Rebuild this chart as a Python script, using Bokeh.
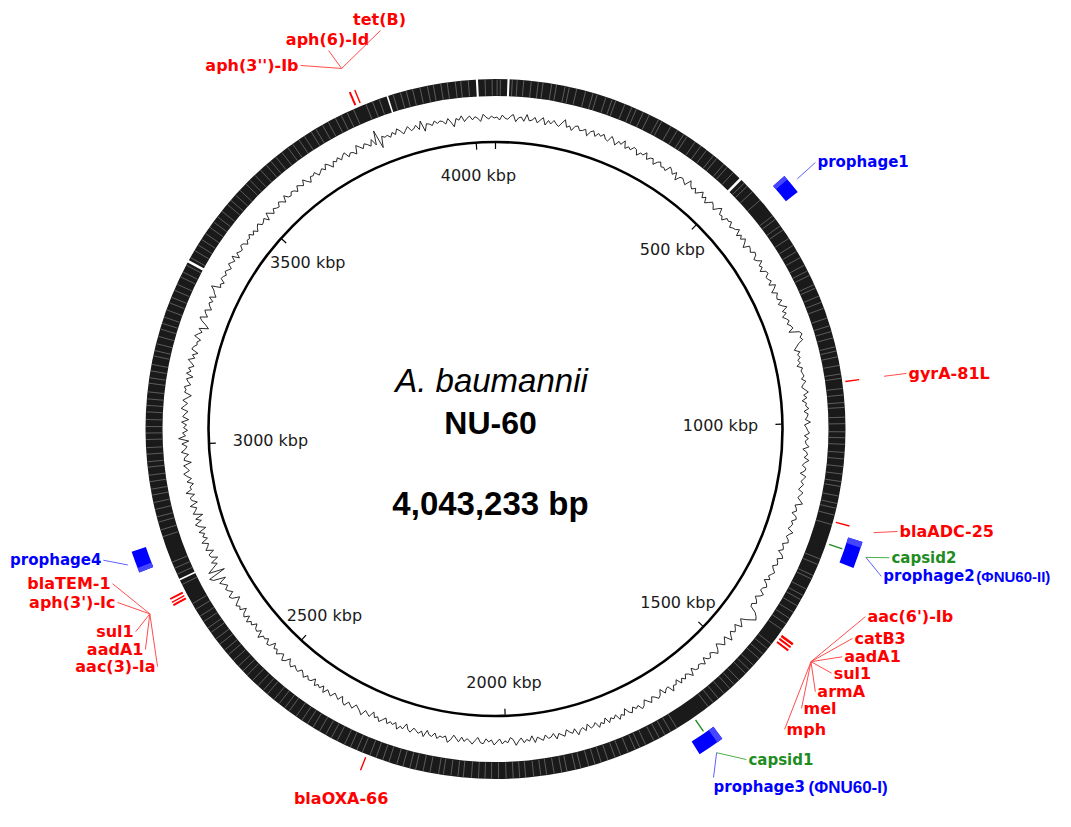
import math
from bokeh.plotting import figure
from bokeh.models import Range1d
from bokeh.core.properties import value
from bokeh.embed import file_html
from bokeh.resources import INLINE

# ---------------- data ----------------
genome_bp = 4043233
genome_kbp = genome_bp / 1000.0
title_species = "A. baumannii"
title_strain = "NU-60"
title_length = "4,043,233 bp"

tick_kbp = [0, 500, 1000, 1500, 2000, 2500, 3000, 3500, 4000]
tick_labels = ["", "500 kbp", "1000 kbp", "1500 kbp", "2000 kbp",
               "2500 kbp", "3000 kbp", "3500 kbp", "4000 kbp"]

# GC plot deviation (one value per 1/720 of the genome)
gc_dev = [
    1, -2, 3, 0, -1, 2, 4, -3, 1, 2, -2, 5, -1, 0, 3, -2, 1, 4, -3, 2,
    -1, 3, 0, -2, 2, 6, -1, 1, -3, 2, 3, -1, 0, 2, -4, 1, 3, -2, 2, 0,
    3, -1, -2, 4, 1, -3, 2, 0, 5, -2, 1, -1, 3, 2, -3, 1, 0, 4, -2, 1,
    2, -3, 1, 3, -1, 0, -2, 4, 2, -1, 3, -4, 1, 2, 0, -2, 5, 1, -1, 2,
    -2, 1, 4, -1, 2, -3, 0, 3, 1, -2, 2, 5, -1, 0, -3, 2, 1, 3, -2, 0,
    1, 4, -2, 2, -1, 3, 0, -4, 2, 1, -1, 3, 2, -2, 0, 4, -1, 1, -3, 2,
    3, -1, 0, 2, -2, 4, 1, -3, 2, 0, -1, 3, -2, 1, 5, -1, 2, -3, 0, 2,
    -1, 2, 3, -2, 8, 10, 7, 9, 4, 1, -2, 3, 0, 2, -1, 1, -3, 2, 0, 1,
    2, -1, 3, 0, -2, 1, 4, -1, 2, -3, 1, 0, 3, -2, 2, 1, -1, 4, -2, 0,
    1, 3, -2, 2, -1, 0, 3, -3, 1, 2, -1, 4, 0, -2, 2, 1, -3, 3, 1, -1,
    2, 0, -2, 3, 1, -1, 2, 5, -2, 0, 1, -3, 2, 3, -1, 1, 0, -2, 4, 1,
    -1, 2, 3, -2, 0, 1, -3, 2, 4, -1, 1, 2, -2, 0, 3, 1, -1, 2, -3, 1,
    3, 0, -1, 4, 2, -2, 1, 3, -1, 0, 7, 10, 12, 8, 4, -1, 2, 5, -2, 1,
    3, -1, 2, 6, -2, 1, 4, 0, -3, 2, 5, 1, -1, 3, 2, -2, 4, 1, 0, 3,
    2, -2, 5, 1, -1, 3, 0, 4, -2, 2, 1, 6, -1, 0, 3, -3, 2, 4, 1, -1,
    4, 1, -2, 3, 5, 0, 2, -1, 4, 2, -3, 3, 1, 5, -1, 2, 0, 4, -2, 3,
    1, 5, -1, 2, 3, -2, 4, 0, 2, 6, -1, 3, 1, -2, 4, 2, 0, 5, -1, 2,
    3, -1, 4, 2, 0, 5, -2, 3, 1, 4, -1, 2, 6, 0, -2, 3, 1, 4, -1, 2,
    5, 0, 2, -1, 4, 3, -2, 1, 5, 2, 0, 3, -1, 4, 1, -2, 3, 6, 0, 2,
    1, 4, -1, 3, 2, -2, 5, 0, 3, 1, -1, 4, 2, -3, 3, 1, 5, -1, 2, 0,
    3, -2, 1, 4, 0, 2, -3, 3, 1, -1, 5, 2, 0, -2, 3, 1, -1, 4, 2, -3,
    2, 0, -2, 3, 1, -1, 4, -2, 2, 0, 3, -3, 1, 2, -1, 3, 0, -2, 2, 1,
    -1, 3, 1, -3, 2, 4, -2, 0, 3, -1, 1, -4, 2, 3, -2, 1, 0, 5, -2, 2,
    1, -3, 2, 0, 4, -2, 3, 1, -4, 2, 0, 3, -1, -5, 2, 4, -2, 1, 3, -1,
    2, 5, -3, 9, 12, -6, 10, 4, -2, 3, -5, 1, 2, -4, 3, 0, -2, 4, -3, 1,
    -2, 3, -5, 1, 4, -3, 2, -6, 3, 0, -2, 4, -4, 1, 2, -3, 5, -1, 0, -4,
    2, -3, 1, 4, -2, 0, 3, -5, 2, 1, -3, 4, 0, -2, 3, -4, 6, -1, 2, -3,
    1, -2, 3, -4, 2, 0, -3, 4, 1, -2, 3, -1, -5, 2, 1, 3, -3, 0, 2, -4,
    3, -1, 2, -3, 0, 4, -2, 1, -4, 3, 2, -1, 0, -3, 4, 1, -2, 2, -7, -3,
    2, 5, -2, 1, 3, -3, 0, 2, -1, 4, -2, 1, 3, 7, -2, 0, -3, 2, 1, -1,
    2, 0, -2, 3, 1, -1, 4, -3, 2, 0, -1, 3, 2, -2, 1, 0, 3, -1, 2, -2,
    1, 3, -1, 0, 2, -3, 4, 1, -2, 2, 0, -1, 3, 1, -2, 4, 0, -1, 2, 1,
    -2, 3, 1, -1, 4, 0, -3, 2, 1, 3, -2, 0, 2, -1, 4, 1, -3, 2, 0, 3,
    -1, 2, 4, -2, 1, 0, -3, 5, 2, -1, 3, 1, -2, 4, -3, 11, -8, 3, 1, 2,
    -1, 3, 0, 5, 2, -2, 1, 4, -1, 0, 3, -2, 6, -5, 2, 1, -1, 3, 0, 2,
    1, -2, 3, -1, -6, 2, 0, 4, -2, 1, 3, -1, 2, 0, -3, 4, 1, -1, 2, 0,
]

# gene ring: clear gaps and lighter intergenic hairlines (kbp)
ring_gap_kbp = [24, 499, 2746, 3354, 3841, 4009]
ring_gap_len_kbp = [4, 5, 3, 5, 3, 4]
ring_light_kbp = [3, 9, 31, 40, 52, 66, 79, 88, 104, 113, 129, 137, 151, 168, 182, 190, 207,
                  219, 226, 244, 258, 267, 281, 293, 312, 319, 338, 352, 366, 373, 391, 404,
                  417, 433, 441, 458, 466, 481, 509, 517, 531, 552, 589, 597, 612, 621, 640,
                  655, 668, 681, 697, 709, 718, 737, 744, 760, 772, 784, 803, 818, 829, 841,
                  858, 866, 877, 893, 909, 917, 936, 948, 962, 971, 989, 1001, 1016, 1027,
                  1039, 1054, 1066, 1080, 1094, 1108, 1117, 1135, 1149, 1158, 1171, 1189,
                  1256, 1267, 1289, 1296, 1317, 1330, 1339, 1352, 1366, 1379, 1391, 1404,
                  1437, 1448, 1461, 1472, 1488, 1499, 1509, 1526, 1538, 1549, 1563, 1577,
                  1589, 1601, 1671, 1684, 1696, 1708, 1719, 1736, 1748, 1757, 1771, 1786,
                  1797, 1811, 1824, 1836, 1848, 1863, 1873, 1889, 1899, 1913, 1927, 1938,
                  1951, 1966, 1977, 1989, 2002, 2016, 2029, 2041, 2053, 2066, 2081, 2091,
                  2104, 2118, 2127, 2143, 2156, 2170, 2181, 2194, 2206, 2221, 2233, 2246,
                  2258, 2273, 2284, 2297, 2309, 2324, 2336, 2348, 2361, 2375, 2387, 2399,
                  2412, 2428, 2438, 2451, 2463, 2479, 2489, 2502, 2516, 2530, 2541, 2553,
                  2567, 2581, 2592, 2606, 2618, 2633, 2643, 2657, 2669, 2684, 2696, 2736,
                  2757, 2769, 2781, 2831, 2844, 2859, 2869, 2883, 2896, 2910, 2921, 2935,
                  2947, 2962, 2972, 2986, 2998, 3013, 3025, 3037, 3050, 3064, 3076, 3088,
                  3101, 3117, 3127, 3140, 3152, 3168, 3178, 3191, 3205, 3219, 3230, 3242,
                  3256, 3270, 3281, 3295, 3307, 3322, 3332, 3346, 3362, 3377, 3389, 3401,
                  3414, 3428, 3440, 3452, 3465, 3481, 3491, 3504, 3516, 3532, 3542, 3555,
                  3569, 3583, 3594, 3606, 3620, 3634, 3645, 3659, 3671, 3686, 3696, 3710,
                  3722, 3737, 3749, 3761, 3774, 3799, 3812, 3825, 3852, 3866, 3877, 3889,
                  3903, 3917, 3928, 3942, 3954, 3969, 3979, 3993, 4024, 4037]

# resistance determinants
res_names = ["aph(3'')-Ib", "aph(6)-Id", "tet(B)", "gyrA-81L", "blaADC-25",
             "aac(6')-Ib", "catB3", "aadA1", "sul1", "armA", "mel", "mph",
             "aac(3)-Ia", "aadA1", "sul1", "aph(3')-Ic", "blaTEM-1", "blaOXA-66"]
res_kbp = [3780, 3781, 3790, 924, 1183,
           1413, 1414, 1415, 1420, 1421, 1427, 1428,
           2710, 2711, 2716, 2722, 2723, 2264]
res_group = ["A", "A", "A", "gyr", "adc",
             "D", "D", "D", "D", "D", "D", "D",
             "E", "E", "E", "E", "E", "oxa"]

capsid_names = ["capsid2", "capsid1"]
capsid_kbp = [1225, 1634]
capsid_group = ["p2", "p3"]

phage_names = ["prophage1", "prophage2", "prophage3", "prophage4"]
phage_tags = ["", "(ΦNU60-II)", "(ΦNU60-I)", ""]
phage_start_kbp = [548, 1203, 1615, 2786]
phage_end_kbp = [583, 1249, 1661, 2823]
phage_group = ["p1", "p2", "p3", "p4"]

# ---------------- layout ----------------
W, H = 1055, 811
CX, CY = 495.0, 428.5          # circle centre in picture pixels
R_AXIS = 287
R_GC = 311
R_RING_IN, R_RING_OUT = 333, 350
R_MARK_IN, R_MARK_OUT = 353, 367
R_BOX_IN, R_BOX_OUT = 369, 384
R_LEAD = 392

res_label_deg = [331.8, 336.2, 343.9, 82.3, 104.3,
                 116.9, 120.4, 123.3, 126.0, 129.4, 132.4, 136.1,
                 234.9, 237.8, 240.6, 245.35, 248.0, 201.9]
res_label_r = [412.5, 413.7, 414.8, 414.7, 414.9,
               414.8, 413.9, 414.9, 415.5, 413.9, 414.4, 416.9,
               413.1, 413.7, 413.0, 415.9, 413.0, 392.5]
res_label_mode = ["R", "B", "B", "L", "L",
                  "L", "L", "L", "L", "L", "L", "L",
                  "R", "R", "R", "R", "R", "TA"]
capsid_label_deg = [108.1, 142.8]
capsid_label_r = [414.4, 415.0]
phage_label_deg = [50.2, 110.9, 147.97, 251.5]
phage_label_r = [416.4, 413.0, 411.1, 413.5]
phage_label_mode = ["L", "L", "LT", "R"]
phage_tag_size = ["", "15px", "17px", ""]
phage_tag_offset = [0, 93, 95, 0]

RED, RED_LEAD = "#ff0000", "#ff4d4d"
BLUE, BLUE_LEAD, BLUE_LIGHT = "#0000ff", "#6060ff", "#4646ff"
GREEN, GREEN_LEAD = "#1f8c1f", "#4caf4c"


def ang(kbp):
    return 2 * math.pi * kbp / genome_kbp


def pol(kbp, r):
    t = ang(kbp)
    return r * math.sin(t), r * math.cos(t)


def pol_deg(deg, r):
    t = math.radians(deg)
    return r * math.sin(t), r * math.cos(t)


def math_ang(kbp):
    return math.pi / 2 - ang(kbp)


p = figure(width=W, height=H,
           x_range=Range1d(-CX, W - CX),
           y_range=Range1d(CY - H, CY),
           output_backend="svg", toolbar_location=None, min_border=0)
p.axis.visible = False
p.grid.visible = False
p.outline_line_color = None
p.background_fill_color = "white"
p.border_fill_color = "white"

# gene ring
p.annulus(x=[0], y=[0], inner_radius=R_RING_IN, outer_radius=R_RING_OUT,
          fill_color="#1a1a1a", line_color=None)
lx0, ly0, lx1, ly1 = [], [], [], []
for k in ring_light_kbp:
    a = pol(k, R_RING_IN + 0.5)
    b = pol(k, R_RING_OUT - 0.5)
    lx0.append(a[0]); ly0.append(a[1]); lx1.append(b[0]); ly1.append(b[1])
p.segment(x0=lx0, y0=ly0, x1=lx1, y1=ly1, line_color="#d8d8d8", line_width=0.5, line_alpha=0.7)
for k, ln in zip(ring_gap_kbp, ring_gap_len_kbp):
    p.annular_wedge(x=[0], y=[0], inner_radius=R_RING_IN - 2, outer_radius=R_RING_OUT + 2,
                    start_angle=[math_ang(k + ln / 2)], end_angle=[math_ang(k - ln / 2)],
                    fill_color="white", line_color=None)

# GC plot
n = len(gc_dev)
gx, gy = [], []
for i, v in enumerate(gc_dev + gc_dev[:1]):
    kk = (i % n + 0.5) * genome_kbp / n
    x, y = pol(kk, R_GC + v)
    gx.append(x); gy.append(y)
p.line(gx, gy, line_color="#111111", line_width=0.9)

# backbone circle and ticks
p.circle(x=[0], y=[0], radius=R_AXIS, fill_color=None, line_color="black", line_width=2.6)
tx0, ty0, tx1, ty1 = [], [], [], []
for k in tick_kbp:
    a = pol(k, R_AXIS - 1)
    b = pol(k, R_AXIS - 7)
    tx0.append(a[0]); ty0.append(a[1]); tx1.append(b[0]); ty1.append(b[1])
p.segment(x0=tx0, y0=ty0, x1=tx1, y1=ty1, line_color="black", line_width=1.2)
for k, lab in zip(tick_kbp, tick_labels):
    if not lab:
        continue
    s = abs(math.sin(ang(k)))
    rr = 254 - 29 * s ** 8
    x, y = pol(k, rr)
    p.text(x=[x], y=[y], text=[lab], text_align="center", text_baseline="middle",
           text_font=value("DejaVu Sans"), text_font_size="16px", text_color="#1a1a1a")

# centre titles
p.text(x=[-4], y=[CY - 380], text=[title_species], text_align="center", text_baseline="alphabetic",
       text_font=value("Liberation Sans"), text_font_style="italic", text_font_size="33px",
       text_color="black")
p.text(x=[-5], y=[CY - 422], text=[title_strain], text_align="center", text_baseline="alphabetic",
       text_font=value("Liberation Sans"), text_font_style="bold", text_font_size="32px",
       text_color="black")
p.text(x=[-5], y=[CY - 503], text=[title_length], text_align="center", text_baseline="alphabetic",
       text_font=value("Liberation Sans"), text_font_style="bold", text_font_size="33px",
       text_color="black")

# group means for leader starts
groups = {}
for k, g in zip(res_kbp, res_group):
    groups.setdefault(g, []).append(k)
for k, g in zip(capsid_kbp, capsid_group):
    groups.setdefault(g, []).append(k)
for s, e, g in zip(phage_start_kbp, phage_end_kbp, phage_group):
    groups.setdefault(g, []).append((s + e) / 2)
gmean = {g: sum(v) / len(v) for g, v in groups.items()}


def place(mode):
    return {"L": (2, 0, "left", "middle"), "R": (-2, 0, "right", "middle"),
            "B": (-1, 1, "center", "bottom"), "TA": (-8, -5, "center", "alphabetic"),
            "LT": (0, 0, "left", "top")}[mode]


def draw_label(txt, group, deg, r, mode, color, lead_color, size, tag="", tag_size="", tag_off=0):
    sx, sy = pol(gmean[group], R_LEAD)
    ex, ey = pol_deg(deg, r)
    p.segment(x0=[sx], y0=[sy], x1=[ex], y1=[ey], line_color=lead_color, line_width=1)
    dx, dy, al, bl = place(mode)
    p.text(x=[ex + dx], y=[ey + dy], text=[txt], text_align=al, text_baseline=bl,
           text_font=value("DejaVu Sans"), text_font_style="bold", text_font_size=size,
           text_color=color)
    if tag:
        p.text(x=[ex + dx + tag_off], y=[ey + dy], text=[tag], text_align=al, text_baseline=bl,
               text_font=value("Liberation Sans"), text_font_style="bold", text_font_size=tag_size,
               text_color=color)


# resistance marks
mx0, my0, mx1, my1 = [], [], [], []
for k in res_kbp:
    a = pol(k, R_MARK_IN); b = pol(k, R_MARK_OUT)
    mx0.append(a[0]); my0.append(a[1]); mx1.append(b[0]); my1.append(b[1])
p.segment(x0=mx0, y0=my0, x1=mx1, y1=my1, line_color=RED, line_width=1.4)
# capsid marks
cx0, cy0, cx1, cy1 = [], [], [], []
for k in capsid_kbp:
    a = pol(k, R_MARK_IN); b = pol(k, R_MARK_OUT)
    cx0.append(a[0]); cy0.append(a[1]); cx1.append(b[0]); cy1.append(b[1])
p.segment(x0=cx0, y0=cy0, x1=cx1, y1=cy1, line_color=GREEN, line_width=1.4)
# prophage boxes
for s, e in zip(phage_start_kbp, phage_end_kbp):
    p.annular_wedge(x=[0], y=[0], inner_radius=R_BOX_IN, outer_radius=R_BOX_OUT,
                    start_angle=[math_ang(e)], end_angle=[math_ang(s)],
                    fill_color=BLUE, line_color=None)
    m = s + 0.22 * (e - s)
    p.annular_wedge(x=[0], y=[0], inner_radius=R_BOX_IN, outer_radius=R_BOX_OUT,
                    start_angle=[math_ang(m)], end_angle=[math_ang(s)],
                    fill_color=BLUE_LIGHT, line_color=None)

for nm, g, d, r, md in zip(res_names, res_group, res_label_deg, res_label_r, res_label_mode):
    draw_label(nm, g, d, r, md, RED, RED_LEAD, "16px")
for nm, g, d, r in zip(capsid_names, capsid_group, capsid_label_deg, capsid_label_r):
    draw_label(nm, g, d, r, "L", GREEN, GREEN_LEAD, "15px")
for nm, tg, g, d, r, md, ts, to in zip(phage_names, phage_tags, phage_group, phage_label_deg,
                                       phage_label_r, phage_label_mode, phage_tag_size,
                                       phage_tag_offset):
    draw_label(nm, g, d, r, md, BLUE, BLUE_LEAD, "15px", tag=tg, tag_size=ts, tag_off=to)

open("out.html", "w").write(file_html(p, INLINE))
